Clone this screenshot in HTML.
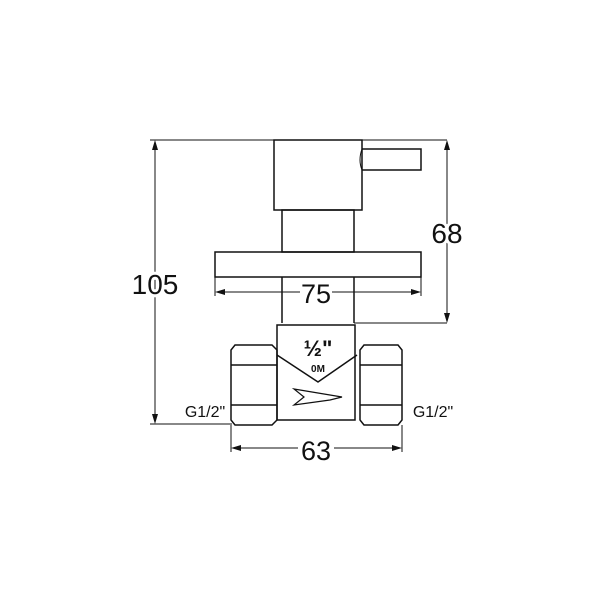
<!DOCTYPE html><html><head><style>body{margin:0;background:#fff}</style></head><body>
<svg width="600" height="600" viewBox="0 0 600 600" xmlns="http://www.w3.org/2000/svg" font-family="Liberation Sans, sans-serif">
<g fill="none" stroke="#111" stroke-width="1.5">
<line x1="150" y1="140" x2="447" y2="140" stroke-width="1"/>
<line x1="150" y1="424" x2="232" y2="424" stroke-width="1"/>
<line x1="155" y1="143" x2="155" y2="421" stroke-width="1"/>
<line x1="354" y1="323" x2="447" y2="323" stroke-width="1"/>
<line x1="447" y1="143" x2="447" y2="320" stroke-width="1"/>
<rect x="274" y="140" width="88" height="70"/>
<path d="M362 149 H421 V170 H362"/>
<path d="M362 149 Q358 160 362 170" stroke-width="1"/>
<rect x="282" y="210" width="72" height="42"/>
<rect x="215" y="252" width="206" height="25"/>
<line x1="282" y1="277" x2="282" y2="323"/><line x1="354" y1="277" x2="354" y2="323"/>
<line x1="215" y1="277" x2="215" y2="296" stroke-width="1"/><line x1="421" y1="277" x2="421" y2="296" stroke-width="1"/>
<line x1="219" y1="292" x2="300" y2="292" stroke-width="1"/><line x1="332" y1="292" x2="417" y2="292" stroke-width="1"/>
<rect x="277" y="325" width="78" height="95"/>
<path d="M277 355 L318 382 L357 355"/>
<path d="M235 345 H272 L277 350 V420 L272 425 H235 L231 420 V350 Z"/>
<line x1="231" y1="365" x2="277" y2="365"/><line x1="231" y1="405" x2="277" y2="405"/>
<path d="M364 345 H398 L402 350 V420 L398 425 H364 L360 420 V350 Z"/>
<line x1="360" y1="365" x2="402" y2="365"/><line x1="360" y1="405" x2="402" y2="405"/>
<path d="M294 389 L330 395 L342 397 L330 400 L294 405 L304 397 Z" stroke-width="1.2"/>
<line x1="231" y1="425" x2="231" y2="452" stroke-width="1"/><line x1="402" y1="425" x2="402" y2="452" stroke-width="1"/>
<line x1="235" y1="448" x2="298" y2="448" stroke-width="1"/><line x1="334" y1="448" x2="399" y2="448" stroke-width="1"/>
</g>
<g fill="#111">
<path d="M155 140 l-3 10 h6z M155 424 l-3 -10 h6z M447 140 l-3 10 h6z M447 323 l-3 -10 h6z M215 292 l10 -3 v6z M421 292 l-10 -3 v6z M231 448 l10 -3 v6z M402 448 l-10 -3 v6z"/>
</g>
<g fill="#111" text-anchor="middle">
<text x="155" y="294" font-size="28" fill="#fff" stroke="#fff" stroke-width="6">105</text>
<text x="155" y="294" font-size="28">105</text>
<text x="447" y="243" font-size="28" fill="#fff" stroke="#fff" stroke-width="6">68</text>
<text x="447" y="243" font-size="28">68</text>
<text x="316" y="303" font-size="27">75</text>
<text x="316" y="460" font-size="27">63</text>
<text x="205" y="417" font-size="16">G1/2"</text>
<text x="433" y="417" font-size="16">G1/2"</text>
<text x="318" y="356" font-size="22" font-weight="bold">½"</text>
<text x="318" y="372" font-size="10" font-weight="bold">0M</text>
</g>
</svg></body></html>
